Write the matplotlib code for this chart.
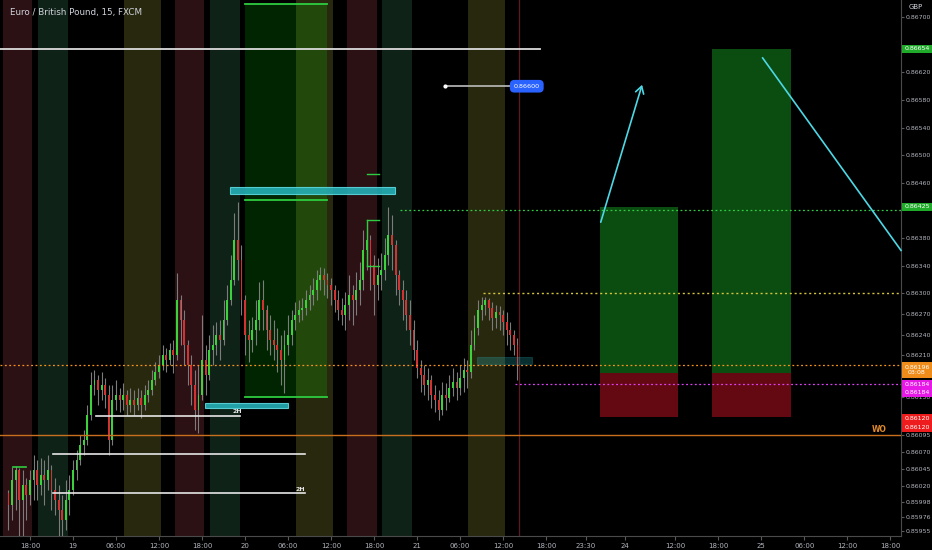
import matplotlib
matplotlib.use('Agg')
import matplotlib.pyplot as plt
import matplotlib.transforms as mtransforms
from matplotlib.patches import Rectangle
import numpy as np

# ---------------- data ----------------
title = "Euro / British Pound, 15, FXCM"
start_hour = 15.0          # hours since 18th 00:00
bar_hours = 0.5
first_open = 0.86010
closes = [0.85993, 0.86029, 0.86044, 0.86000, 0.86022, 0.86007, 0.86029, 0.86044, 0.86022, 0.86036,
          0.86029, 0.86044, 0.86015, 0.86000, 0.85986, 0.85971, 0.86000, 0.86015, 0.86044, 0.86058,
          0.86080, 0.86087, 0.86123, 0.86167, 0.86174, 0.86160, 0.86167, 0.86152, 0.86087, 0.86145,
          0.86152, 0.86145, 0.86152, 0.86138, 0.86145, 0.86138, 0.86148, 0.86138, 0.86152, 0.86160,
          0.86174, 0.86186, 0.86196, 0.86210, 0.86203, 0.86218, 0.86210, 0.86290, 0.86261, 0.86225,
          0.86196, 0.86167, 0.86130, 0.86152, 0.86203, 0.86182, 0.86218, 0.86225, 0.86239, 0.86232,
          0.86261, 0.86290, 0.86319, 0.86377, 0.86348, 0.86290, 0.86239, 0.86232, 0.86246, 0.86261,
          0.86290, 0.86276, 0.86246, 0.86232, 0.86225, 0.86218, 0.86203, 0.86225, 0.86239, 0.86261,
          0.86268, 0.86276, 0.86278, 0.86290, 0.86297, 0.86305, 0.86319, 0.86326, 0.86319, 0.86312,
          0.86305, 0.86290, 0.86276, 0.86268, 0.86283, 0.86297, 0.86290, 0.86305, 0.86319, 0.86362,
          0.86377, 0.86341, 0.86312, 0.86326, 0.86334, 0.86355, 0.86384, 0.86370, 0.86326, 0.86305,
          0.86290, 0.86268, 0.86246, 0.86218, 0.86191, 0.86182, 0.86167, 0.86174, 0.86152, 0.86145,
          0.86130, 0.86152, 0.86148, 0.86162, 0.86171, 0.86162, 0.86177, 0.86189, 0.86186, 0.86225,
          0.86249, 0.86276, 0.86283, 0.86290, 0.86278, 0.86264, 0.86273, 0.86268, 0.86258, 0.86246,
          0.86239, 0.86225, 0.86196]
highs = [0.86015, 0.86048, 0.86049, 0.86046, 0.86044, 0.86032, 0.86044, 0.86065, 0.86058, 0.86061,
         0.86058, 0.86065, 0.86051, 0.86032, 0.86022, 0.86007, 0.86029, 0.86036, 0.86058, 0.86073,
         0.86094, 0.86101, 0.86138, 0.86186, 0.86189, 0.86182, 0.86186, 0.86177, 0.86167, 0.86167,
         0.86174, 0.86162, 0.86170, 0.86160, 0.86162, 0.86160, 0.86162, 0.86160, 0.86167, 0.86174,
         0.86189, 0.86200, 0.86210, 0.86225, 0.86220, 0.86228, 0.86232, 0.86329, 0.86297, 0.86276,
         0.86232, 0.86210, 0.86189, 0.86196, 0.86268, 0.86225, 0.86239, 0.86254, 0.86258, 0.86261,
         0.86290, 0.86312, 0.86355, 0.86416, 0.86432, 0.86370, 0.86297, 0.86261, 0.86265, 0.86290,
         0.86316, 0.86319, 0.86283, 0.86268, 0.86261, 0.86249, 0.86239, 0.86246, 0.86268, 0.86276,
         0.86287, 0.86290, 0.86293, 0.86305, 0.86312, 0.86322, 0.86334, 0.86338, 0.86336, 0.86329,
         0.86322, 0.86312, 0.86305, 0.86293, 0.86302, 0.86326, 0.86312, 0.86331, 0.86345, 0.86391,
         0.86406, 0.86384, 0.86355, 0.86351, 0.86358, 0.86380, 0.86425, 0.86413, 0.86377, 0.86334,
         0.86319, 0.86305, 0.86290, 0.86261, 0.86232, 0.86203, 0.86196, 0.86191, 0.86182, 0.86167,
         0.86160, 0.86171, 0.86170, 0.86182, 0.86191, 0.86186, 0.86196, 0.86206, 0.86203, 0.86246,
         0.86268, 0.86290, 0.86294, 0.86294, 0.86293, 0.86287, 0.86283, 0.86281, 0.86276, 0.86273,
         0.86258, 0.86246, 0.86235]
lows = [0.85957, 0.85971, 0.85986, 0.85948, 0.85948, 0.85971, 0.85993, 0.86000, 0.86000, 0.86007,
        0.85993, 0.86015, 0.85986, 0.85978, 0.85948, 0.85948, 0.85957, 0.85978, 0.86007, 0.86029,
        0.86051, 0.86065, 0.86080, 0.86116, 0.86152, 0.86138, 0.86145, 0.86134, 0.86065, 0.86080,
        0.86130, 0.86128, 0.86130, 0.86123, 0.86128, 0.86123, 0.86130, 0.86119, 0.86130, 0.86142,
        0.86152, 0.86167, 0.86177, 0.86189, 0.86186, 0.86196, 0.86184, 0.86203, 0.86225, 0.86196,
        0.86167, 0.86138, 0.86101, 0.86097, 0.86145, 0.86152, 0.86174, 0.86196, 0.86210, 0.86203,
        0.86225, 0.86254, 0.86283, 0.86312, 0.86319, 0.86268, 0.86210, 0.86200, 0.86215, 0.86225,
        0.86246, 0.86246, 0.86218, 0.86210, 0.86203, 0.86186, 0.86167, 0.86155, 0.86210, 0.86225,
        0.86246, 0.86258, 0.86261, 0.86268, 0.86276, 0.86283, 0.86290, 0.86305, 0.86297, 0.86293,
        0.86283, 0.86273, 0.86261, 0.86254, 0.86246, 0.86261, 0.86254, 0.86268, 0.86283, 0.86305,
        0.86334, 0.86305, 0.86268, 0.86290, 0.86305, 0.86319, 0.86341, 0.86334, 0.86297, 0.86283,
        0.86261, 0.86246, 0.86225, 0.86203, 0.86177, 0.86157, 0.86152, 0.86145, 0.86134, 0.86128,
        0.86116, 0.86123, 0.86130, 0.86142, 0.86151, 0.86145, 0.86152, 0.86157, 0.86162, 0.86177,
        0.86218, 0.86239, 0.86261, 0.86268, 0.86261, 0.86246, 0.86249, 0.86246, 0.86239, 0.86225,
        0.86218, 0.86210, 0.86174]

# x axis (hours since 18th 00:00) tick positions and labels
xtick_pos = [18, 24, 30, 36, 42, 48, 54, 60, 66, 72, 78, 84, 90, 95.5, 101, 108, 114, 120, 126, 132, 138]
xtick_lab = ['18:00', '19', '06:00', '12:00', '18:00', '20', '06:00', '12:00', '18:00', '21',
             '06:00', '12:00', '18:00', '23:30', '24', '12:00', '18:00', '25', '06:00', '12:00', '18:00']
ytick_vals = [0.86700, 0.86620, 0.86580, 0.86540, 0.86500, 0.86460, 0.86380,
              0.86340, 0.86300, 0.86270, 0.86240, 0.86210, 0.86150, 0.86095,
              0.86070, 0.86045, 0.86020, 0.85998, 0.85976, 0.85955]

# session bands (start, end hours) repeated each day
red_sessions = [(14.2, 18.3), (38.2, 42.3), (62.2, 66.4)]
green_sessions = [(19.1, 23.3), (43.1, 47.3), (67.1, 71.3)]
olive_sessions = [(31.1, 36.3), (55.1, 60.3), (79.1, 84.2)]

# levels
wo_level = 0.86095
current_price = 0.86196
yellow_level = 0.86300
target_level_line = 0.86420
magenta_level = 0.86168
entry = 0.86184
stop = 0.86120
target1 = 0.86425
target2 = 0.86654
alert_level = 0.86600

# right-axis price labels: text, centre value, colour, number of lines
axis_labels = [
    ('0.86654', 0.86654, '#1faa2a', 1),
    ('0.86425', 0.86425, '#1faa2a', 1),
    ('0.86196\n03:08', 0.86189, '#f08c1a', 2),
    ('0.86184', 0.86168, '#e619e6', 1),
    ('0.86184', 0.86156, '#e619e6', 1),
    ('0.86120', 0.86118, '#ee1c1c', 1),
    ('0.86120', 0.86105, '#ee1c1c', 1),
]

# ---------------- figure ----------------
fig = plt.figure(figsize=(9.32, 5.5), dpi=100, facecolor='black')
ax = fig.add_axes([0, 14 / 550, 901 / 932, 536 / 550], facecolor='black')
XMIN, XMAX = 13.82, 139.5
YMIN, YMAX = 0.85948, 0.86725
ax.set_xlim(XMIN, XMAX)
ax.set_ylim(YMIN, YMAX)
px_price = (YMAX - YMIN) / 536.0

for a, b in red_sessions:
    ax.axvspan(a, b, color='#2b1014', lw=0, zorder=0)
for a, b in green_sessions:
    ax.axvspan(a, b, color='#0f2217', lw=0, zorder=0)
for a, b in olive_sessions:
    ax.axvspan(a, b, color='#28280f', lw=0, zorder=0)

# green highlighted rectangle drawing
ax.add_patch(Rectangle((48.0, 0.86149), 11.4, 0.86719 - 0.86149, facecolor='#00ff00', alpha=0.15,
                       lw=0, zorder=1))
for lv in (0.86719, 0.86435, 0.86149):
    ax.plot([48.0, 59.4], [lv, lv], color='#2ecc40', lw=1.3, zorder=6)

# current-time vertical line
ax.axvline(86.2, color='#5a1a22', lw=0.9, zorder=1)

# candles
closes = np.array(closes)
opens = np.concatenate([[first_open], closes[:-1]])
highs = np.maximum(np.array(highs), np.maximum(opens, closes))
lows = np.minimum(np.array(lows), np.minimum(opens, closes))
xs = start_hour + bar_hours * np.arange(len(closes))
ax.vlines(xs, lows, highs, color='#7c7c7c', lw=0.8, zorder=3)
up = closes >= opens
body_bottom = np.minimum(opens, closes)
body_h = np.maximum(np.abs(closes - opens), 0.000015)
ax.bar(xs, body_h, bottom=body_bottom, width=0.26,
       color=np.where(up, '#3cd23c', '#d23232'), lw=0, zorder=4)

# horizontal level lines
ax.axhline(wo_level, color='#c8701e', lw=1.0, zorder=5)
ax.axhline(current_price, color='#f7931a', lw=0.9, ls=(0, (1.5, 2)), zorder=5)
ax.plot([81.2, XMAX], [yellow_level] * 2, color='#d4c43c', lw=1.0, ls=(0, (1.5, 2)), zorder=5)
ax.plot([69.6, XMAX], [target_level_line] * 2, color='#2ecc40', lw=0.9, ls=(0, (1.5, 2)), zorder=5)
ax.plot([85.6, XMAX], [magenta_level] * 2, color='#e040fb', lw=0.9, ls=(0, (1.5, 2)), zorder=5)

# white support/resistance lines
ax.plot([XMIN, 89.1], [0.86654] * 2, color='#dcdcdc', lw=1.3, zorder=6)
ax.plot([27.2, 47.3], [0.86122] * 2, color='#e6e6e6', lw=1.2, zorder=6)
ax.plot([21.2, 56.4], [0.86067] * 2, color='#e6e6e6', lw=1.2, zorder=6)
ax.plot([21.2, 56.4], [0.86010] * 2, color='#e6e6e6', lw=1.2, zorder=6)
ax.text(46.9, 0.86129, '2H', color='#e6e6e6', fontsize=4.5, fontweight='bold', ha='center',
        va='center', zorder=7)
ax.text(55.7, 0.86016, '2H', color='#e6e6e6', fontsize=4.5, fontweight='bold', ha='center',
        va='center', zorder=7)

# alert line with label
ax.plot([75.9, 85.6], [alert_level] * 2, color='#bdbdbd', lw=1.2, zorder=6)
ax.plot([75.9], [alert_level], 'o', color='white', ms=2, zorder=7)
ax.text(87.3, alert_level, '0.86600', color='white', fontsize=4.6, ha='center', va='center', zorder=8,
        bbox=dict(boxstyle='round,pad=0.6,rounding_size=0.7', fc='#2962ff', ec='none'))

# cyan zones
ax.add_patch(Rectangle((45.9, 0.86444), 23.0, 0.00010, facecolor='#26b8c0', edgecolor='#5fe0e6',
                       lw=0.8, alpha=0.85, zorder=6))
ax.add_patch(Rectangle((42.4, 0.86133), 11.6, 0.00008, facecolor='#26b8c0', edgecolor='#5fe0e6',
                       lw=0.8, alpha=0.85, zorder=6))
ax.add_patch(Rectangle((80.3, 0.86197), 7.7, 0.00010, facecolor='#26b8c0', edgecolor='#2aa5ab',
                       lw=0.8, alpha=0.25, zorder=6))

# small green bracket marks
ax.plot([65.0, 66.7], [0.86473] * 2, color='#2ecc40', lw=1.0, zorder=6)
ax.plot([65.0, 66.7], [0.86406] * 2, color='#2ecc40', lw=1.0, zorder=6)
ax.plot([65.0, 66.7], [0.86339] * 2, color='#2ecc40', lw=1.0, zorder=6)
ax.plot([65.0, 65.0], [0.86339, 0.86406], color='#2ecc40', lw=1.0, zorder=6)
ax.plot([15.6, 17.4], [0.86048] * 2, color='#2ecc40', lw=1.2, zorder=6)

# long-position boxes
for x0, w, tgt in ((97.5, 10.9, target1), (113.1, 11.0, target2)):
    ax.add_patch(Rectangle((x0, entry), w, tgt - entry, facecolor='#0b4d10', lw=0, zorder=2))
    ax.add_patch(Rectangle((x0, stop), w, entry - stop, facecolor='#640812', lw=0, zorder=2))

# cyan projection lines
ax.annotate('', xy=(103.5, 0.86606), xytext=(97.5, 0.86399),
            arrowprops=dict(arrowstyle='->,head_length=0.5,head_width=0.3', color='#4dd8e6', lw=1.2),
            zorder=7)
ax.plot([120.2, 139.5], [0.86641, 0.86362], color='#4dd8e6', lw=1.2, zorder=7, clip_on=False)

ax.text(136.5, 0.86103, 'WO', color='#e08a2a', fontsize=5.5, fontweight='bold', ha='center', va='center',
        zorder=7)

# axes styling
ax.yaxis.tick_right()
ax.set_yticks(ytick_vals)
ax.set_yticklabels([f'{v:.5f}' for v in ytick_vals])
ax.set_xticks(xtick_pos)
ax.set_xticklabels(xtick_lab)
ax.tick_params(axis='y', colors='#5a5a5a', labelcolor='#b2b5be', labelsize=4.5, length=2, pad=1.2)
ax.tick_params(axis='x', colors='#5a5a5a', labelcolor='#b2b5be', labelsize=5.0, length=3, pad=2)
for s in ('top', 'left'):
    ax.spines[s].set_visible(False)
for s in ('right', 'bottom'):
    ax.spines[s].set_color('#4a4a4a')
    ax.spines[s].set_linewidth(0.8)

# right axis price labels (full-width coloured boxes)
tr = mtransforms.blended_transform_factory(ax.transAxes, ax.transData)
box_w = 30.0 / 901.0
for txt, yv, col, nl in axis_labels:
    hgt = (8.5 if nl == 1 else 16.0) * px_price
    ax.add_patch(Rectangle((1.001, yv - hgt / 2), box_w, hgt, transform=tr, facecolor=col, lw=0,
                           clip_on=False, zorder=19))
    ax.text(1.001 + box_w / 2, yv, txt, transform=tr, color='white', fontsize=4.5, ha='center',
            va='center', linespacing=1.05, zorder=20, clip_on=False)

fig.text(10 / 932, 1 - 12 / 550, title, color='#d1d4dc', fontsize=6.3, ha='left', va='center')
fig.text(916 / 932, 1 - 7 / 550, 'GBP', color='#d1d4dc', fontsize=5.0, ha='center', va='center')

fig.savefig('out.png', dpi=100, facecolor='black')
